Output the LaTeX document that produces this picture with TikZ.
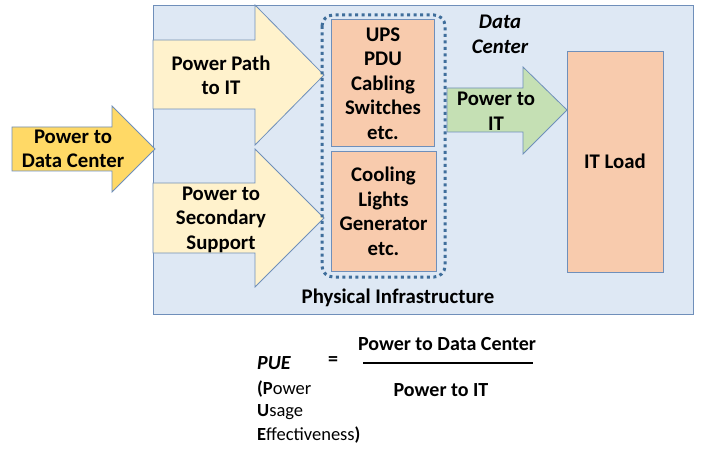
\documentclass[tikz,border=0pt]{standalone}
\usepackage{fontspec}
\setmainfont{Carlito}
\begin{document}
\begin{tikzpicture}[x=1pt,y=-1pt,
  edge/.style={draw=borderc, line width=0.8pt},
  lbl/.style={font=\fontsize{20.8}{24.5}\selectfont\bfseries, align=center, inner sep=0pt},
  flbl/.style={font=\fontsize{18.5}{23.5}\selectfont, inner sep=0pt},
  fbold/.style={font=\fontsize{20}{24}\selectfont\bfseries, inner sep=0pt}]
\definecolor{borderc}{HTML}{6F8FBA}
\definecolor{dcfill}{HTML}{DEE8F4}
\definecolor{goldc}{HTML}{FFD966}
\definecolor{creamc}{HTML}{FFF2CC}
\definecolor{peachc}{HTML}{F8CBAD}
\definecolor{greenc}{HTML}{C5E0B4}
\definecolor{dotc}{HTML}{3F6E9B}
\useasboundingbox (0,0) rectangle (704,449);
\fill[white] (0,0) rectangle (704,449);
% data center box
\path[edge, fill=dcfill] (153,5) rectangle (693,314);
% power path arrow
\path[edge, fill=creamc] (153,40) -- (255,40) -- (255,5) -- (324,75) -- (255,145) -- (255,109) -- (153,109) -- cycle;
% secondary arrow
\path[edge, fill=creamc] (153,183) -- (255,183) -- (255,149) -- (324,218) -- (255,287) -- (255,253) -- (153,253) -- cycle;
% power to data center arrow
\path[edge, fill=goldc] (12,127) -- (112,127) -- (112,106) -- (155,149) -- (112,192) -- (112,171) -- (12,171) -- cycle;
% peach boxes
\path[edge, fill=peachc] (331,19) rectangle (434,146);
\path[edge, fill=peachc] (331,151) rectangle (436,271);
\path[edge, fill=peachc] (567,51) rectangle (663,272);
% dotted
\draw[dotc, line width=3pt, dash pattern=on 3pt off 3.5pt, rounded corners=11pt] (322,15) rectangle (445,277);
% green arrow
\path[edge, fill=greenc] (447,88) -- (523,88) -- (523,67) -- (567,110) -- (523,154) -- (523,132) -- (447,132) -- cycle;
% texts
\node[lbl] (pdc) at (73,149) {Power to\\Data Center};
\node[lbl] (ppit) at (221,75.5) {Power Path\\to IT};
\node[lbl] (pss) at (221,219.5) {Power to\\Secondary\\Support};
\node[lbl] (ups) at (383,83.5) {UPS\\PDU\\Cabling\\Switches\\etc.};
\node[lbl] (cool) at (383.5,211.5) {Cooling\\Lights\\Generator\\etc.};
\node[lbl] (pit) at (496,111.5) {Power to\\IT};
\node[lbl] (itl) at (615,161.5) {IT Load};
\node[lbl, font=\fontsize{20.8}{24.5}\selectfont\bfseries\itshape] (dc) at (500,34.5) {Data\\Center};
\node[lbl] (phys) at (398,297.5) {Physical Infrastructure};
% formula
\node[fbold, anchor=west, font=\fontsize{20}{24}\selectfont\bfseries\itshape] (pue) at (257,363) {PUE};
\node[fbold] (eq) at (333,361) {=};
\node[fbold] (num) at (447,344) {Power to Data Center};
\node[fbold] (den) at (441,390) {Power to IT};
\coordinate (fl) at (363,363);
\coordinate (fr) at (533,363);
\draw[line width=2.2pt] (fl) -- (fr);
\node[flbl, anchor=west] (l1) at (257,389) {\textbf{(P}ower};
\node[flbl, anchor=west] (l2) at (257,412) {\textbf{U}sage};
\node[flbl, anchor=west] (l3) at (257,435.5) {\textbf{E}ffectiveness\textbf{)}};
\end{tikzpicture}
\end{document}
